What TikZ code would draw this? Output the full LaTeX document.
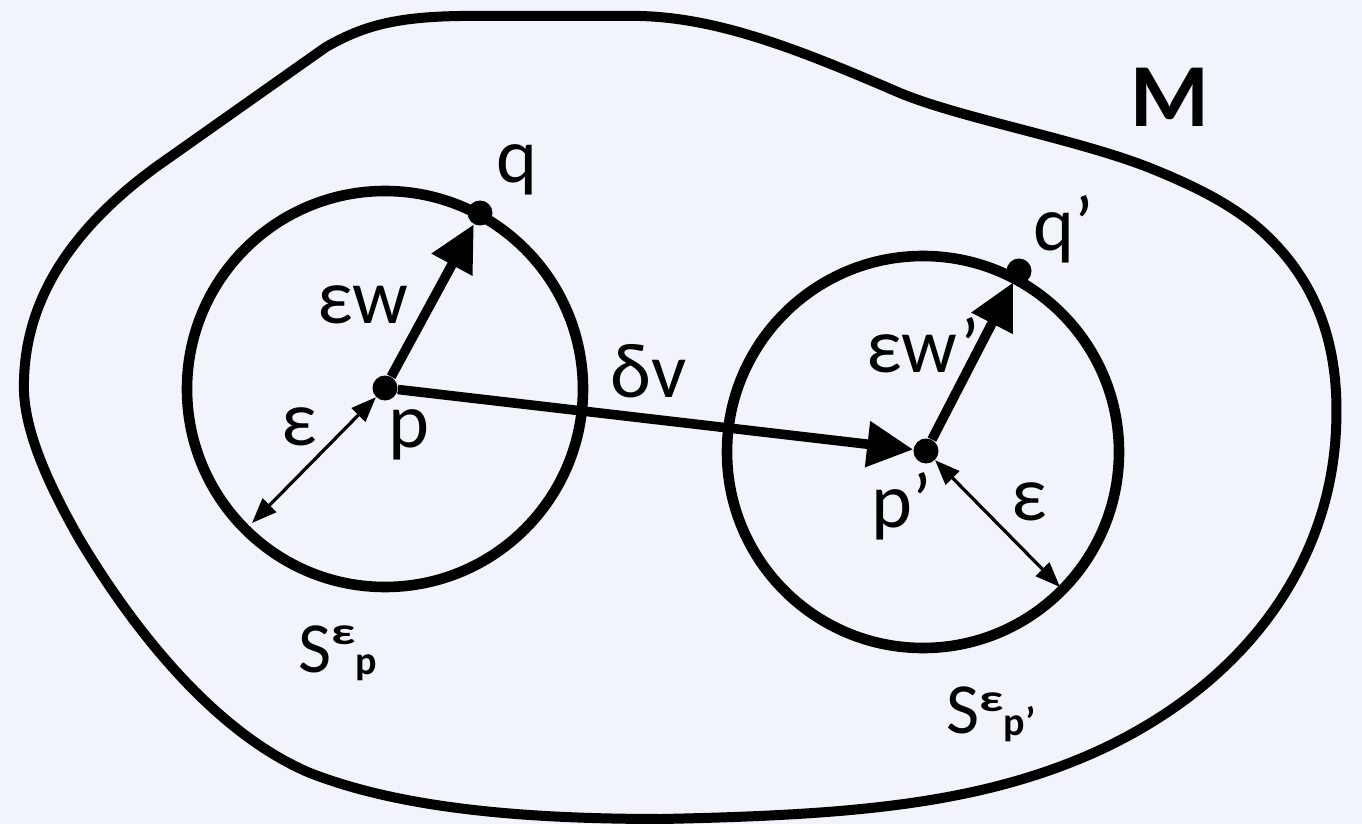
\documentclass[tikz,border=0pt]{standalone}
\usepackage{fontspec}
\setmainfont{Carlito}
\usetikzlibrary{arrows.meta}
\newcommand{\supeps}[1]{\raisebox{#1}{\scalebox{1.4}[1]{\fontsize{19}{19}\bfseries ε}}}
\begin{document}
\begin{tikzpicture}[x=0.5pt,y=-0.5pt,
  lbl/.style={anchor=base west,inner sep=0pt,font=\fontsize{39}{47}\selectfont},
  slbl/.style={anchor=base west,inner sep=0pt,font=\fontsize{36}{40}\selectfont},
  dot/.style={circle,fill=black,inner sep=0pt,minimum size=12.5pt},
  sphere/.style={line width=5.3pt},
  blob/.style={line width=5pt,line join=round},
  bigarrow/.style={line width=4.8pt,-{Triangle[length=23pt,width=22pt]}},
  thinarrow/.style={line width=1.6pt,{Triangle[length=12.5pt,width=9.5pt]}-{Triangle[length=12.5pt,width=9.5pt]}}]
\fill[color={rgb,255:red,241;green,244;blue,250}] (0,0) rectangle (1362,824);
\useasboundingbox (0,0) rectangle (1362,824);
% manifold M
\draw[blob] (156,167) -- (326,47)
  .. controls (360,28) and (390,17) .. (460,16) -- (640,16)
  .. controls (720,18) and (800,50) .. (900,93)
  .. controls (960,118) and (1080,140) .. (1150,168)
  .. controls (1200,188) and (1230,205) .. (1255,225)
  .. controls (1320,280) and (1340,350) .. (1336,430)
  .. controls (1330,560) and (1250,680) .. (1100,750)
  .. controls (980,805) and (850,815) .. (662,819)
  .. controls (520,819) and (400,808) .. (310,773)
  .. controls (220,735) and (140,640) .. (80,540)
  .. controls (40,470) and (22,420) .. (24,380)
  .. controls (26,300) and (70,230) .. cycle;
% spheres
\draw[sphere] (385,389) circle[radius=99pt];
\draw[sphere] (923,452) circle[radius=98pt];
% points
\node[dot] (p) at (385,388) {};
\node[dot] (q) at (480,213) {};
\node[dot] (pp) at (926,451) {};
\node[dot] (qp) at (1019,271) {};
\coordinate (e1) at (252,523);
\coordinate (e2) at (1060,587);
% arrows
\draw[bigarrow] (p) -- (q);
\draw[bigarrow] (p) -- (pp);
\draw[bigarrow] (pp) -- (qp);
\draw[thinarrow] (e1) -- (p);
\draw[thinarrow] (pp) -- (e2);
% labels
\node[lbl] (lq) at (496,183) {q};
\node[lbl] (lew) at (317,323) {εw};
\node[lbl] (ldv) at (610,397) {δv};
\node[lbl] (le1) at (281,445) {ε};
\node[lbl] (lp) at (388,447) {p};
\node[lbl] (lewp) at (866,372) {εw’};
\node[lbl] (lpp) at (871,527) {p’};
\node[lbl] (le2) at (1011,520) {ε};
\node[lbl] (lqp) at (1033,250) {q’};
\node[anchor=base west,inner sep=0pt,font=\fontsize{45}{50}\bfseries] (lM) at (1130,127) {M};
\node[slbl] (lS1) at (298,672)
  {S\supeps{14pt}\raisebox{-1pt}{\fontsize{20}{20}\bfseries p}};
\node[slbl] (lS2) at (946,733)
  {S\supeps{11pt}\raisebox{-1pt}{\fontsize{20}{20}\bfseries p’}};
\end{tikzpicture}
\end{document}
